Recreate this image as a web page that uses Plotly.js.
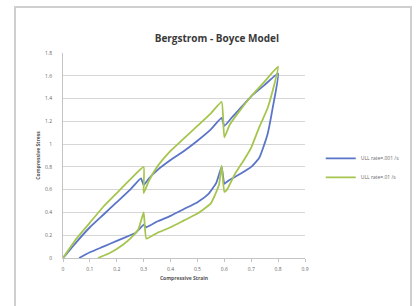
<!DOCTYPE html>
<html>
<head>
<meta charset="utf-8">
<script src="https://cdn.plot.ly/plotly-3.0.1.min.js"></script>
<style>
html,body{margin:0;padding:0;background:#fff;width:417px;height:306px;overflow:hidden;}
#frame{position:absolute;left:14px;top:6px;width:398px;height:320px;border:2px solid #cfcfcf;box-sizing:border-box;}
#chart{position:absolute;left:0;top:0;width:417px;height:306px;}
</style>
</head>
<body>
<div id="frame"></div>
<div id="chart"></div>
<script>
// Series: strain (x) and stress (y)
const slowName = "ULL rate=.001 /s";
const slowStrain = [0,0.05,0.1,0.15,0.2,0.25,0.29,0.3,0.32,0.35,0.4,0.45,0.5,0.55,0.59,0.6,0.63,0.65,0.7,0.75,0.8,0.78,0.76,0.73,0.7,0.66,0.63,0.61,0.6,0.59,0.57,0.54,0.5,0.45,0.4,0.35,0.31,0.3,0.27,0.25,0.2,0.15,0.1,0.06];
const slowStress = [0,0.14,0.27,0.38,0.49,0.6,0.7,0.64,0.7,0.77,0.86,0.94,1.03,1.13,1.23,1.16,1.24,1.29,1.42,1.52,1.62,1.32,1.08,0.88,0.8,0.74,0.7,0.67,0.65,0.8,0.66,0.56,0.49,0.43,0.37,0.32,0.27,0.29,0.22,0.2,0.15,0.1,0.05,0];

const fastName = "ULL rate=.01 /s";
const fastStrain = [0,0.05,0.1,0.15,0.2,0.25,0.3,0.3,0.32,0.35,0.4,0.45,0.5,0.55,0.59,0.6,0.62,0.65,0.7,0.75,0.8,0.78,0.76,0.73,0.7,0.67,0.64,0.61,0.6,0.59,0.58,0.55,0.5,0.45,0.4,0.35,0.31,0.3,0.28,0.25,0.23,0.2,0.17,0.13];
const fastStress = [0,0.17,0.31,0.45,0.57,0.69,0.8,0.57,0.68,0.8,0.94,1.05,1.16,1.27,1.37,1.06,1.17,1.27,1.42,1.55,1.68,1.47,1.31,1.15,0.97,0.85,0.74,0.6,0.58,0.81,0.64,0.48,0.39,0.33,0.27,0.22,0.17,0.4,0.25,0.17,0.13,0.08,0.04,0];

const xTicks = [0,0.1,0.2,0.3,0.4,0.5,0.6,0.7,0.8,0.9];
const yTicks = [0,0.2,0.4,0.6,0.8,1,1.2,1.4,1.6,1.8];

const traces = [
  {x: slowStrain, y: slowStress, name: slowName, type: 'scatter', mode: 'lines',
   line: {color: '#5a74c8', width: 1.8, shape: 'spline', smoothing: 0.4}},
  {x: fastStrain, y: fastStress, name: fastName, type: 'scatter', mode: 'lines',
   line: {color: '#a6c54e', width: 1.8, shape: 'spline', smoothing: 0.4}}
];

const layout = {
  width: 417, height: 306,
  margin: {l: 63, r: 101, t: 53, b: 48},
  paper_bgcolor: 'rgba(0,0,0,0)',
  plot_bgcolor: '#fff',
  font: {family: 'Open Sans, DejaVu Sans, sans-serif', color: '#666', size: 5},
  title: {text: '<b>Bergstrom - Boyce Model</b>', x: 0.52, xanchor: 'center', y: 0.875, yanchor: 'middle',
          font: {family: 'Open Sans, DejaVu Sans, sans-serif', size: 10, color: '#3a3a3a'}},
  xaxis: {range: [0, 0.9], tickvals: xTicks, ticktext: xTicks.map(String),
          showgrid: false, zeroline: false, showline: true, linecolor: '#c4c4c4', linewidth: 1,
          ticks: 'outside', ticklen: 3, tickcolor: '#c4c4c4', tickfont: {size: 5, color: '#666'},
          ticklabelstandoff: 3,
          title: {text: '<b>Compressive Strain</b>', standoff: 5, font: {size: 5, color: '#555'}},
          fixedrange: true},
  yaxis: {range: [0, 1.8], tickvals: yTicks, ticktext: yTicks.map(String),
          showgrid: true, gridcolor: '#d6d6d6', gridwidth: 1, zeroline: false,
          showline: true, linecolor: '#c4c4c4', linewidth: 1,
          ticks: '', tickfont: {size: 5, color: '#666'}, ticklabelstandoff: 9,
          title: {text: '<b>Compressive Stress</b>', standoff: 4, font: {size: 5, color: '#555'}},
          fixedrange: true},
  showlegend: true,
  legend: {x: 1.065, y: 0.44, xanchor: 'left', yanchor: 'middle', bgcolor: 'rgba(0,0,0,0)',
           font: {size: 5, color: '#666'}, itemwidth: 30, tracegroupgap: 0}
};

Plotly.newPlot('chart', traces, layout, {displayModeBar: false, staticPlot: true});
</script>
</body>
</html>
